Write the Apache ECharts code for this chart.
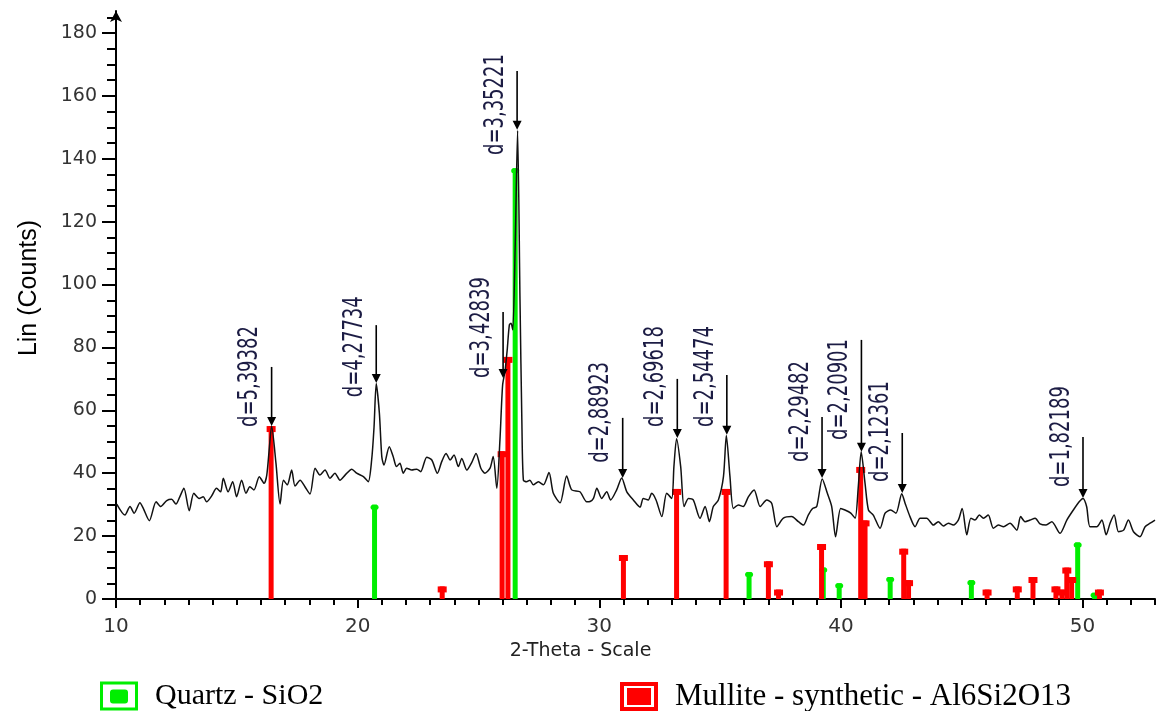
<!DOCTYPE html>
<html><head><meta charset="utf-8">
<script src="https://cdn.jsdelivr.net/npm/echarts@6/dist/echarts.min.js"></script>
<style>html,body{margin:0;padding:0;background:#fff}#c{width:1158px;height:711px}</style>
</head><body><div id="c"></div><script>
// Observed XRD pattern: [2-theta, counts]
const observed = [
[10.03,30.2],[10.37,26.7],[10.58,29.4],[10.75,27.3],[10.99,30.6],[11.13,28.8],[11.38,24.9],[11.66,30.9],[11.85,29.4],
[12.1,31.3],[12.3,31.7],[12.48,30.2],[12.64,32.5],[12.81,35.2],[13.03,28.1],[13.22,33.6],[13.44,32.0],[13.61,32.5],
[13.75,30.9],[13.96,32.8],[14.16,35.2],[14.33,34.1],[14.44,38.4],[14.64,34.1],[14.83,37.3],[14.99,32.5],[15.2,37.8],
[15.38,33.6],[15.54,35.7],[15.71,34.7],[15.93,38.9],[16.13,36.8],[16.24,39.4],[16.35,48.4],[16.44,55.0],[16.62,43.2],
[16.79,30.2],[16.93,37.8],[17.09,36.3],[17.27,41.0],[17.41,35.9],[17.62,37.8],[17.82,35.7],[18.03,33.4],[18.24,41.6],
[18.44,39.4],[18.65,41.0],[18.86,38.4],[19.06,40.0],[19.27,37.8],[19.48,39.4],[19.76,41.3],[19.96,40.0],[20.24,38.9],
[20.44,37.3],[20.58,44.2],[20.68,54.8],[20.77,68.5],[20.9,59.1],[21.0,45.3],[21.09,42.6],[21.31,48.4],[21.47,45.3],
[21.61,42.1],[21.75,43.2],[21.89,40.0],[22.03,41.6],[22.24,41.0],[22.45,41.3],[22.61,40.5],[22.86,45.1],[23.07,44.2],
[23.3,40.0],[23.48,43.7],[23.66,46.3],[23.83,44.2],[23.99,45.8],[24.17,42.1],[24.31,44.7],[24.52,41.0],[24.72,43.4],
[24.9,46.3],[25.1,41.6],[25.27,40.0],[25.48,41.6],[25.61,45.3],[25.76,35.2],[25.89,50.6],[26.0,68.0],[26.1,72.5],
[26.19,79.2],[26.28,87.2],[26.35,87.7],[26.42,85.6],[26.52,112],[26.62,149],[26.72,95],[26.8,55],[26.86,37.8],
[26.99,37.3],[27.13,37.8],[27.27,36.3],[27.48,37.3],[27.69,36.3],[27.92,40.2],[28.1,33.6],[28.38,30.6],[28.65,39.1],
[28.86,34.7],[29.2,34.1],[29.48,30.9],[29.62,31.0],[29.76,32.0],[29.9,35.2],[30.1,32.0],[30.31,34.1],[30.47,31.5],
[30.72,34.7],[30.93,38.5],[31.14,34.1],[31.41,31.5],[31.69,29.2],[31.82,32.0],[32.03,31.5],[32.17,33.6],[32.35,31.5],
[32.59,26.2],[32.79,33.6],[33.0,32.0],[33.09,42.1],[33.2,51.0],[33.37,42.1],[33.51,29.4],[33.69,32.0],[33.89,31.5],
[34.17,25.7],[34.38,29.4],[34.56,24.6],[34.72,29.4],[34.93,31.5],[35.14,38.9],[35.26,52.0],[35.41,38.9],[35.55,28.8],
[35.76,29.9],[35.96,29.4],[36.17,32.5],[36.41,34.7],[36.66,29.4],[36.93,31.5],[37.14,30.4],[37.35,23.0],[37.62,25.7],
[37.96,26.2],[38.24,24.6],[38.45,23.5],[38.65,26.7],[38.83,28.8],[39.0,29.4],[39.23,38.2],[39.44,33.6],[39.62,29.4],
[39.78,19.8],[39.99,28.8],[40.17,28.3],[40.41,27.3],[40.59,25.7],[40.72,35.7],[40.84,46.8],[41.0,36.8],[41.14,28.3],
[41.34,26.7],[41.62,22.5],[41.83,27.3],[42.06,28.3],[42.28,27.3],[42.52,33.5],[42.66,30.4],[42.86,26.2],[43.07,23.0],
[43.28,25.7],[43.55,25.7],[43.83,23.5],[44.03,24.6],[44.24,23.2],[44.45,24.1],[44.65,23.5],[44.86,25.1],[45.02,28.8],
[45.21,20.4],[45.38,25.7],[45.55,25.1],[45.73,26.7],[45.9,25.7],[46.1,26.7],[46.31,22.5],[46.52,23.5],[46.73,23.0],
[47.0,24.1],[47.28,21.9],[47.44,26.2],[47.62,24.6],[47.83,25.1],[48.04,25.7],[48.24,23.9],[48.49,23.5],[48.73,24.6],
[49.07,20.9],[49.35,25.1],[49.62,28.3],[49.87,31.0],[50.02,32.0],[50.17,29.4],[50.31,23.0],[50.59,23.0],[50.8,25.1],
[50.98,20.4],[51.14,24.1],[51.31,26.7],[51.49,21.4],[51.7,21.9],[51.9,25.1],[52.11,21.4],[52.38,19.8],[52.59,23.0],
[52.8,24.1],[53.0,25.1]
];
// Reference pattern sticks: [2-theta, counts]
const quartzSticks = [[20.7,30],[26.52,137],[36.2,8.6],[39.27,10],[39.93,5],[42.04,7],[45.4,6],[49.8,18],[50.5,2]];
const mulliteSticks = [[16.42,55],[23.5,4],[25.98,47],[26.22,77],[31.0,14],[33.2,35],[35.25,35],[37.0,12],[37.42,3],
  [39.2,17.5],[40.82,42],[41.0,25],[42.6,16],[42.8,6],[46.05,3],[47.3,4],[47.95,7],[48.9,4],[49.15,3],[49.35,10],
  [49.55,7],[50.7,3]];
// Peak annotations
const annoLabels = ['d=5,39382','d=4,27734','d=3,42839','d=3,35221','d=2,88923','d=2,69618','d=2,54474','d=2,29482','d=2,20901','d=2,12361','d=1,82189'];
const annoX      = [16.44, 20.77, 26.02, 26.6, 30.97, 33.23, 35.28, 39.22, 40.85, 42.54, 50.02];
const annoTip    = [55.0, 68.7, 70.3, 149.2, 38.5, 51.2, 52.2, 38.5, 46.8, 33.7, 32.1];
const annoTop    = [73.8, 87.1, 91.3, 167.9, 57.6, 70.0, 71.2, 57.9, 82.4, 52.8, 51.5];
const annoTextAt = [54.7, 64.2, 70.3, 141.2, 43.3, 54.7, 54.7, 43.6, 50.6, 37.2, 35.6];
// Axis ticks
const xMajorTicks = [10,20,30,40,50];
const yMajorTicks = [0,20,40,60,80,100,120,140,160,180];
const xMinorTicks = []; for (let v = 11; v <= 53; v++) if (v % 10) xMinorTicks.push(v);
const yMinorTicks = []; for (let v = 5; v <= 185; v += 5) if (v % 20) yMinorTicks.push(v);

const GREEN = '#00ee00', RED = '#ff0000';
function makeStick(color, w, capW, capH, round) {
  return function (params, api) {
    const x = api.value(0), v = api.value(1);
    const base = api.coord([x, 0]), top = api.coord([x, v]);
    return { type: 'group', children: [
      { type: 'rect', shape: { x: base[0] - w / 2, y: top[1], width: w, height: base[1] - top[1] }, style: { fill: color } },
      { type: 'rect', shape: { x: base[0] - capW / 2, y: top[1], width: capW, height: capH, r: round ? capH / 2 : 0 }, style: { fill: color } }
    ]};
  };
}
function annoRender(params, api) {
  const x = api.value(0);
  const tip = api.coord([x, api.value(1)]);
  const top = api.coord([x, api.value(2)]);
  const txt = api.coord([x, api.value(3)]);
  return { type: 'group', children: [
    { type: 'line', shape: { x1: tip[0], y1: top[1], x2: tip[0], y2: tip[1] - 7 }, style: { stroke: '#000', lineWidth: 1.6 } },
    { type: 'polygon', shape: { points: [[tip[0] - 4.5, tip[1] - 9], [tip[0] + 4.5, tip[1] - 9], [tip[0], tip[1]]] }, style: { fill: '#000' } },
    { type: 'text', x: tip[0] - 21, y: txt[1], rotation: Math.PI / 2, scaleX: 1, scaleY: 1.3,
      style: { text: annoLabels[params.dataIndex], fontFamily: '"DejaVu Sans Condensed","Liberation Sans Narrow",sans-serif', fontSize: 20, fill: '#1c1c44', align: 'left', verticalAlign: 'middle' } }
  ]};
}
const greenIcon = 'path://M0 0H38V29H0Z M3 3V26H35V3Z M13 8H25Q28 8 28 11V19Q28 22 25 22H13Q10 22 10 19V11Q10 8 13 8Z';
const redIcon = 'path://M0 0H38V29H0Z M4 4V25H34V4Z M7 6H31V23H7Z';
const tickStyle = { color: '#000', width: 2 };
const legendText = { fontFamily: '"Liberation Serif","Times New Roman",serif', fontSize: 30, color: '#000', padding: [0, 0, 0, 12] };

const chart = echarts.init(document.getElementById('c'), null, { renderer: 'canvas' });
chart.setOption({
  backgroundColor: '#fff',
  animation: false,
  grid: { left: 116, right: 3, top: 11, bottom: 112, containLabel: false },
  legend: [
    { data: ['Quartz - SiO2'], left: 95, top: 676, itemWidth: 38, itemHeight: 29, icon: greenIcon, itemStyle: { borderWidth: 0 }, textStyle: legendText, selectedMode: false },
    { data: ['Mullite - synthetic - Al6Si2O13'], left: 615, top: 676, itemWidth: 38, itemHeight: 29, icon: redIcon, itemStyle: { borderWidth: 0 }, textStyle: Object.assign({}, legendText, { fontSize: 31 }), selectedMode: false }
  ],
  xAxis: [
    { type: 'value', min: 10, max: 53, position: 'bottom',
      name: '2-Theta - Scale', nameLocation: 'middle', nameGap: 43,
      nameTextStyle: { fontFamily: 'DejaVu Sans', fontSize: 19, color: '#222', padding: [0, 110, 0, 0] },
      axisLine: { show: true, onZero: false, lineStyle: tickStyle },
      axisTick: { show: true, customValues: xMajorTicks, length: 9, lineStyle: tickStyle },
      axisLabel: { customValues: xMajorTicks, margin: 18, fontFamily: 'DejaVu Sans', fontSize: 20, color: '#333' },
      splitLine: { show: false } },
    { type: 'value', min: 10, max: 53, position: 'bottom',
      axisLine: { show: false }, axisTick: { show: true, customValues: xMinorTicks, length: 6, lineStyle: tickStyle },
      axisLabel: { show: false }, splitLine: { show: false } }
  ],
  yAxis: [
    { type: 'value', min: 0, max: 187, position: 'left',
      name: 'Lin (Counts)', nameLocation: 'middle', nameGap: 74,
      nameTextStyle: { fontFamily: 'Liberation Sans', fontSize: 25, color: '#000', padding: [0, 0, 0, 34] },
      axisLine: { show: true, onZero: false, symbol: ['none', 'arrow'], symbolSize: [9, 11], lineStyle: tickStyle },
      axisTick: { show: true, customValues: yMajorTicks, length: 14, lineStyle: tickStyle },
      axisLabel: { customValues: yMajorTicks, margin: 19, fontFamily: 'DejaVu Sans', fontSize: 19, color: '#333' },
      splitLine: { show: false } },
    { type: 'value', min: 0, max: 187, position: 'left',
      axisLine: { show: false }, axisTick: { show: true, customValues: yMinorTicks, length: 9, lineStyle: tickStyle },
      axisLabel: { show: false }, splitLine: { show: false } }
  ],
  series: [
    { name: 'Quartz - SiO2', type: 'custom', xAxisIndex: 0, yAxisIndex: 0, data: quartzSticks,
      renderItem: makeStick(GREEN, 5, 8, 5, true), itemStyle: { color: GREEN }, z: 2, silent: true },
    { name: 'Mullite - synthetic - Al6Si2O13', type: 'custom', xAxisIndex: 0, yAxisIndex: 0, data: mulliteSticks,
      renderItem: makeStick(RED, 5, 9, 6, false), itemStyle: { color: RED }, z: 2, silent: true },
    { name: 'observed', type: 'line', xAxisIndex: 0, yAxisIndex: 0, data: observed, showSymbol: false, symbol: 'none',
      smooth: 0.25, lineStyle: { color: '#111', width: 1.5 }, z: 3, silent: true },
    { name: 'peaks', type: 'custom', xAxisIndex: 0, yAxisIndex: 0,
      data: annoX.map((x, i) => [x, annoTip[i], annoTop[i], annoTextAt[i]]),
      renderItem: annoRender, z: 4, silent: true }
  ]
});
</script></body></html>
